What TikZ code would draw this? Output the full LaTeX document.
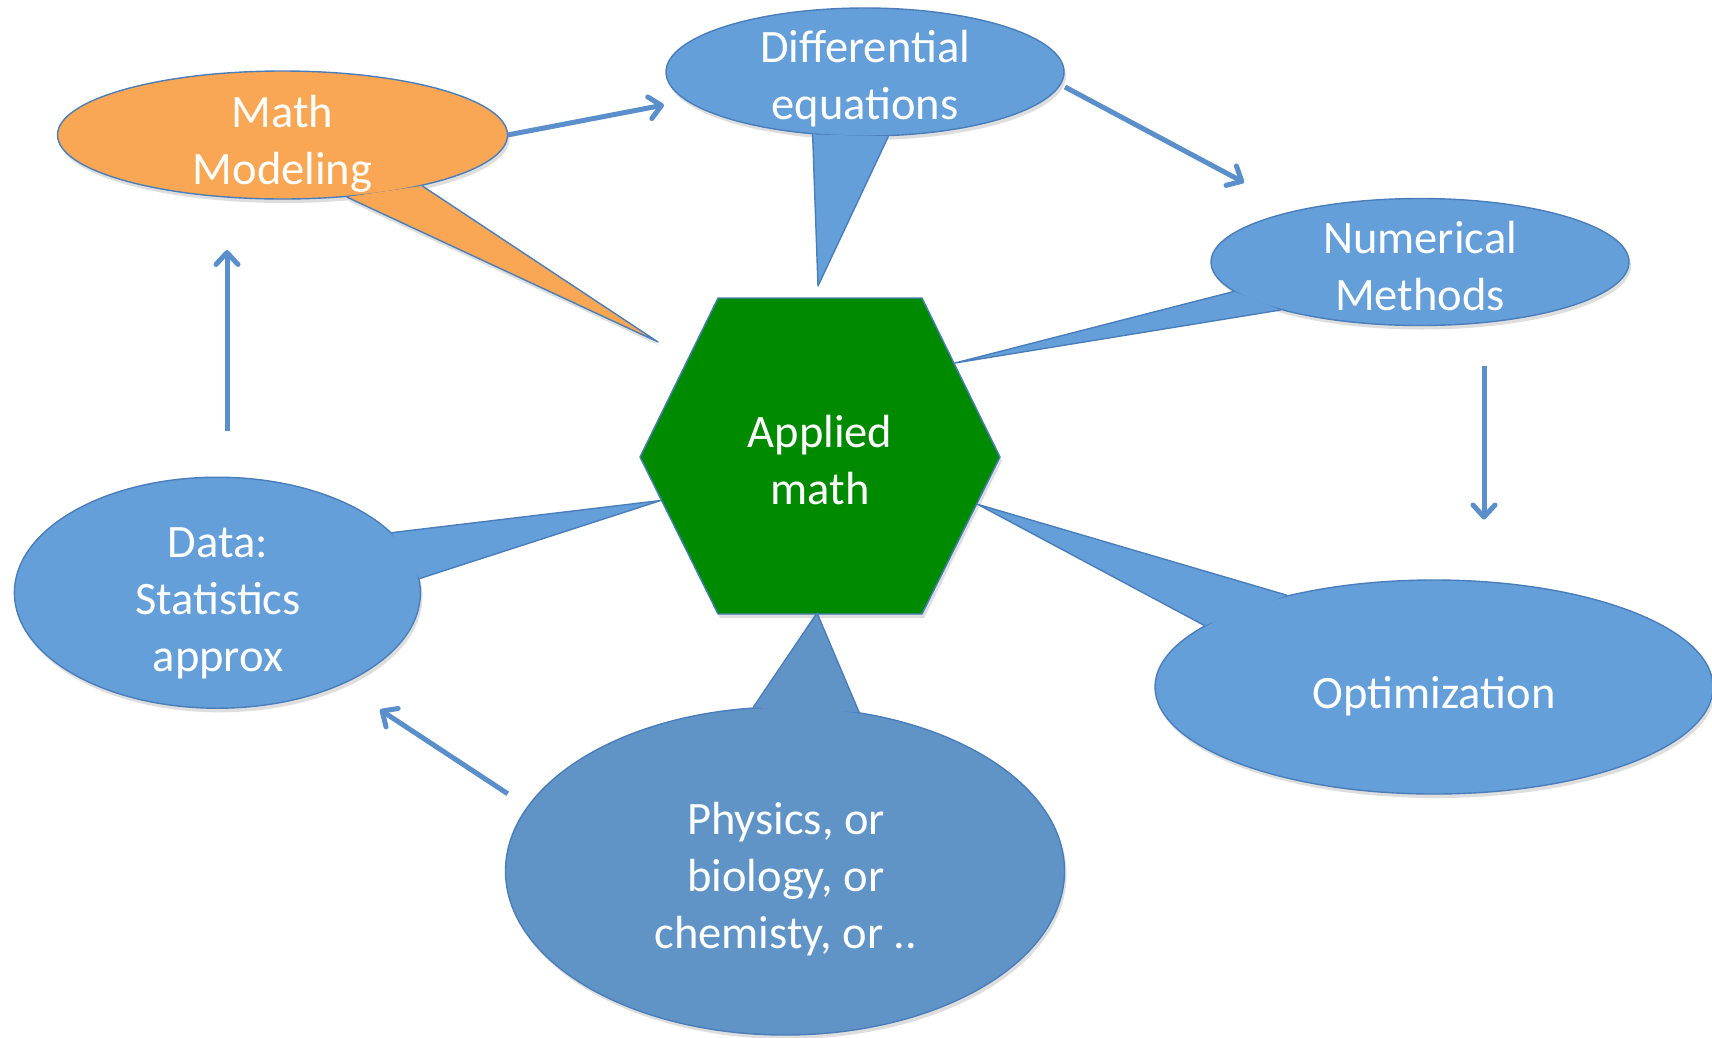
\documentclass[tikz,border=0pt]{standalone}
\usepackage{fontspec}
\setmainfont{Carlito}
\usetikzlibrary{shapes.geometric,arrows.meta}
\definecolor{lblue}{RGB}{100,159,218}
\definecolor{dblue}{RGB}{96,147,198}
\definecolor{bord}{RGB}{74,126,187}
\definecolor{orng}{RGB}{249,167,84}
\definecolor{grn}{RGB}{0,138,0}
\definecolor{arr}{RGB}{90,143,203}
\definecolor{shd}{RGB}{222,222,222}
\begin{document}
\begin{tikzpicture}[x=1pt,y=-1pt,
  bubble/.style={ellipse, draw=bord, line width=1.4pt, inner sep=0pt},
  tailedge/.style={draw=bord, line width=1.4pt, line join=round},
  lbl/.style={text=white, font=\fontsize{46.5}{57}\selectfont, align=center, inner sep=0pt},
  flow/.style={draw=arr, line width=5pt, -{Straight Barb[length=12pt,width=22pt,round]}}]
\useasboundingbox[fill=white] (0,0) rectangle (1712,1037);

% ---------- soft shadows ----------
\begin{scope}[shift={(2,4)}]
\fill[shd] (282.5,135) ellipse[x radius=225,y radius=64];
\fill[shd] (345.6,196.7) -- (658,342) -- (422.4,185) -- cycle;
\fill[shd] (865,72) ellipse[x radius=199,y radius=64];
\fill[shd] (1420,262) ellipse[x radius=209,y radius=63.5];
\fill[shd] (217.4,592.7) ellipse[x radius=203,y radius=115.6];
\fill[shd] (1434,687) ellipse[x radius=279,y radius=107];
\fill[shd] (785,871) ellipse[x radius=279.5,y radius=164];
\fill[shd] (718,298) -- (922,298) -- (1000,457) -- (922,614) -- (718,614) -- (640,457) -- cycle;
\end{scope}

% ---------- central hexagon ----------
\coordinate (h1) at (718,298);
\coordinate (h2) at (922,298);
\coordinate (h3) at (1000,457);
\coordinate (h4) at (922,614);
\coordinate (h5) at (718,614);
\coordinate (h6) at (640,457);
\filldraw[fill=grn, draw=bord, line width=1.4pt, line join=round]
  (h1) -- (h2) -- (h3) -- (h4) -- (h5) -- (h6) -- cycle;
\node[lbl] (am) at (820,460.5) {Applied\\math};

% ---------- Math Modeling ----------
\node[bubble, fill=orng, minimum width=450pt, minimum height=128pt] (mm) at (282.5,135) {};
\coordinate (mmtip) at (658,342);
\fill[orng] (mm.-44) -- (mmtip) -- (mm.-20) -- cycle;
\draw[tailedge] (mm.-44) -- (mmtip) -- (mm.-20);
\node[lbl] (mmt) at (282.5,144) {Math\\Modeling};

% ---------- Differential equations ----------
\node[bubble, fill=lblue, minimum width=398pt, minimum height=128pt] (de) at (865,72) {};
\coordinate (detip) at (818,286);
\fill[lblue] (de.-130.5) -- (detip) -- (de.-70.5) -- cycle;
\draw[tailedge] (de.-130.5) -- (detip) -- (de.-70.5);
\node[lbl] (det) at (865,79) {Differential\\equations};

% ---------- Numerical Methods ----------
\node[bubble, fill=lblue, minimum width=418pt, minimum height=127pt] (nm) at (1420,262) {};
\coordinate (nmtip) at (955,363);
\fill[lblue] (nm.-171.6) -- (nmtip) -- (nm.-161.6) -- cycle;
\draw[tailedge] (nm.-171.6) -- (nmtip) -- (nm.-161.6);
\node[lbl] (nmt) at (1420,265.75) {Numerical\\Methods};

% ---------- Data ----------
\node[bubble, fill=lblue, minimum width=406pt, minimum height=231pt] (da) at (217.4,592.7) {};
\coordinate (datip) at (660.7,500.5);
\fill[lblue] (da.19) -- (datip) -- (da.4.9) -- cycle;
\draw[tailedge] (da.19) -- (datip) -- (da.4.9);
\node[lbl] (dat) at (218,603) {Data:\\Statistics\\approx};

% ---------- Optimization ----------
\node[bubble, fill=lblue, minimum width=558pt, minimum height=214pt] (op) at (1434,687) {};
\coordinate (optip) at (977.6,504.3);
\fill[lblue] (op.148.8) -- (optip) -- (op.165) -- cycle;
\draw[tailedge] (op.148.8) -- (optip) -- (op.165);
\node[lbl, anchor=base] (opt) at (1434,708) {Optimization};

% ---------- Physics ----------
\node[bubble, fill=dblue, minimum width=559pt, minimum height=328pt] (ph) at (785,871) {};
\coordinate (phtip) at (817,613);
\fill[dblue] (ph.101.6) -- (phtip) -- (ph.65.2) -- cycle;
\draw[tailedge] (ph.101.6) -- (phtip) -- (ph.65.2);
\node[lbl] (pht) at (786,879.5) {Physics, or\\biology, or\\chemisty, or ..};

% ---------- arrows ----------
\coordinate (a1s) at (227,431);   \coordinate (a1e) at (227,250);
\coordinate (a2s) at (507.5,135); \coordinate (a2e) at (664,105);
\coordinate (a3s) at (1065,87);   \coordinate (a3e) at (1244,182.5);
\coordinate (a4s) at (1484,366);  \coordinate (a4e) at (1484,519.5);
\coordinate (a5s) at (507.7,793.7); \coordinate (a5e) at (380,709.7);
\draw[flow] (a1s) -- (a1e);
\draw[flow] (a2s) -- (a2e);
\draw[flow] (a3s) -- (a3e);
\draw[flow] (a4s) -- (a4e);
\draw[flow] (a5s) -- (a5e);
\end{tikzpicture}
\end{document}
